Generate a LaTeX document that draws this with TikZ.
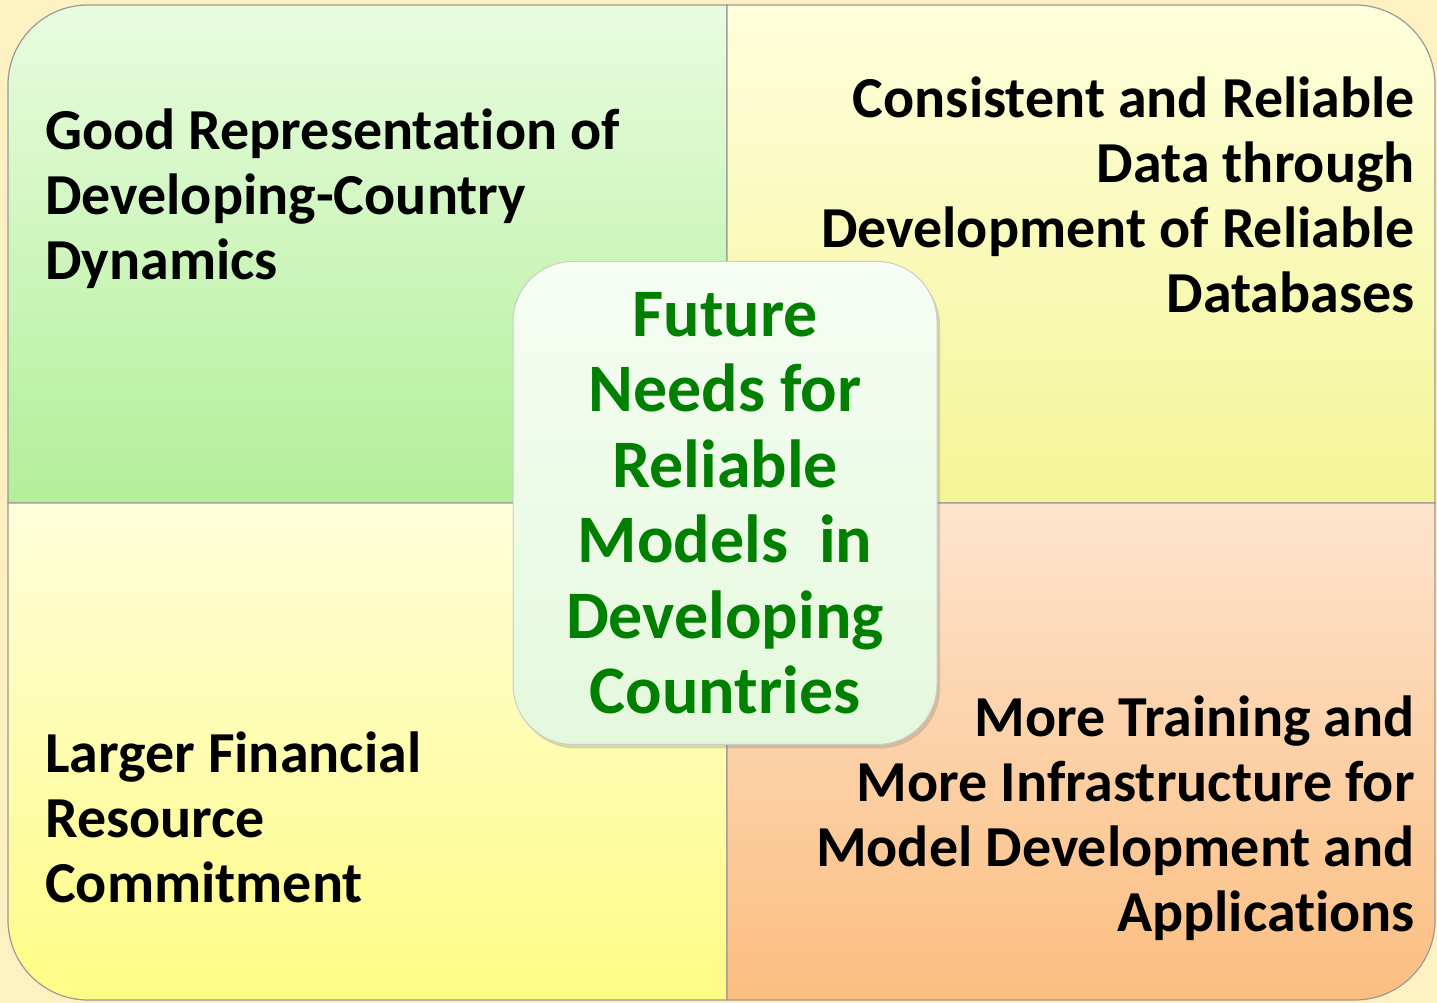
\documentclass[tikz,border=0pt]{standalone}
\usepackage{fontspec}
\setmainfont[Ligatures=NoCommon]{Carlito}
\usetikzlibrary{shadows}
\definecolor{cream}{HTML}{FDF1C2}
\definecolor{tlTop}{HTML}{E8FCDF}
\definecolor{tlBot}{HTML}{B3EF99}
\definecolor{trTop}{HTML}{FEFEDC}
\definecolor{trBot}{HTML}{F4F596}
\definecolor{blTop}{HTML}{FEFEDA}
\definecolor{blBot}{HTML}{FEFB84}
\definecolor{brTop}{HTML}{FDE4CE}
\definecolor{brBot}{HTML}{FBBE80}
\definecolor{hubTop}{HTML}{F6FDF3}
\definecolor{hubBot}{HTML}{E4F8DC}
\definecolor{hubText}{HTML}{007F00}
\tikzset{
  quad/.style={draw=black!40, line width=1.2pt},
  quadtext/.style={inner sep=0pt, text=black,
    font=\fontsize{58}{65}\selectfont\bfseries},
  hub/.style={draw=black!20, line width=1pt, rounded corners=60pt,
    top color=hubTop, bottom color=hubBot, align=center, text=hubText,
    minimum width=424pt, minimum height=483pt, inner sep=0pt,
    font=\fontsize{68}{75.5}\selectfont\bfseries,
    drop shadow={opacity=0.3, shadow xshift=3pt, shadow yshift=-4pt}}
}

\begin{document}
\begin{tikzpicture}[x=1pt, y=1pt]
  \useasboundingbox (0,0) rectangle (1437,1003);
  \fill[cream] (0,0) rectangle (1437,1003);

  % four quadrants, each with one rounded outer corner
  \shadedraw[quad, top color=tlTop, bottom color=tlBot]
    (8,500) -- (8,918) arc[start angle=180, end angle=90, radius=80pt]
    -- (727,998) -- (727,500) -- cycle;
  \shadedraw[quad, top color=trTop, bottom color=trBot]
    (727,500) -- (727,998) -- (1355,998) arc[start angle=90, end angle=0, radius=80pt]
    -- (1435,500) -- cycle;
  \shadedraw[quad, top color=blTop, bottom color=blBot]
    (8,500) -- (727,500) -- (727,3) -- (88,3)
    arc[start angle=270, end angle=180, radius=80pt] -- cycle;
  \shadedraw[quad, top color=brTop, bottom color=brBot]
    (727,500) -- (1435,500) -- (1435,83)
    arc[start angle=0, end angle=-90, radius=80pt] -- (727,3) -- cycle;

  \node[quadtext, anchor=north west, align=left] (tl) at (45,894)
    {Good Representation of\\Developing-Country\\Dynamics};
  \node[quadtext, anchor=north east, align=right] (tr) at (1415,926)
    {Consistent and Reliable\\Data through\\Development of Reliable\\Databases};
  \node[quadtext, anchor=north west, align=left] (bl) at (45,271)
    {Larger Financial\\Resource\\Commitment};
  \node[quadtext, anchor=north east, align=right] (br) at (1415,307)
    {More Training and\\More Infrastructure for\\Model Development and\\Applications};

  % centre box
  \node[hub] (needs) at (725,500)
    {Future\\Needs for\\Reliable\\Models~~in\\Developing\\Countries};
\end{tikzpicture}
\end{document}
